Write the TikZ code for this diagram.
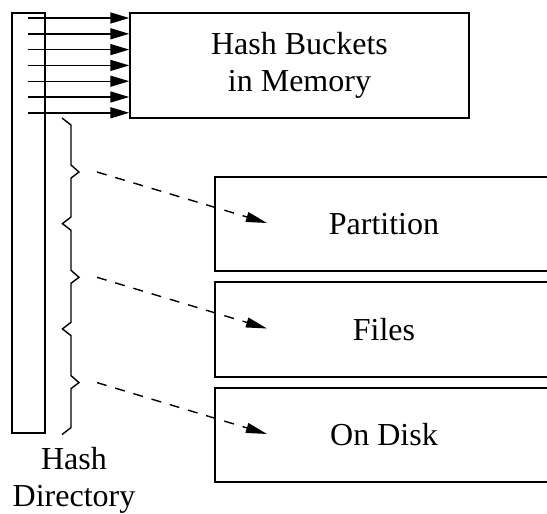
\documentclass[tikz,border=0pt]{standalone}
\usepackage{fontspec}
\setmainfont{Liberation Serif}
\usetikzlibrary{arrows.meta}

\begin{document}
\begin{tikzpicture}[x=1pt,y=-1pt,line width=1.4pt,
	box/.style={shape=rectangle,draw=black,inner sep=0pt,align=center,
		font=\fontsize{32}{37}\selectfont},
	ptr/.style={-{Triangle[length=19pt,width=11pt]}},
	spill/.style={-{Triangle[length=21pt,width=10pt]},dash pattern=on 10pt off 9pt}]
	\useasboundingbox (0,0) rectangle (547,514);
	\clip (0,0) rectangle (547,514);
	\node[box,minimum width=33pt,minimum height=420pt] (dir) at (28.5,223) {};
	\node[box,minimum width=339pt,minimum height=105pt] (mem) at (299.5,65.5) {Hash Buckets\\in Memory};
	\node[box,minimum width=338pt,minimum height=94pt] (P1) at (384,224) {Partition};
	\node[box,minimum width=338pt,minimum height=95pt] (P2) at (384,329.5) {Files};
	\node[box,minimum width=338pt,minimum height=94pt] (P3) at (384,435) {On Disk};
	\node[box,draw=none] (label) at (74,480) {Hash\\Directory};
	
	%\path [-, black] (dir) edge (mem);
	\foreach \i in {0,...,6}{
		\coordinate (s\i) at (28,18+15.8*\i);
		\draw[ptr] (s\i) -- (s\i -| mem.west);
	}
	
	\foreach \i/\p in {0/P1,1/P2,2/P3}{
		\draw (62,118+105.3*\i) -- ++(9,7) -- ++(0,40) -- ++(8,7) coordinate (c\i)
			-- ++(-8,6) -- ++(0,39) -- ++(-9,7);
		\coordinate (a\i) at ([xshift=18pt]c\i);
		\coordinate (b\i) at (267,223+105.5*\i);
		\draw[spill] (a\i) -- (b\i);
	}
\end{tikzpicture}
\end{document}
